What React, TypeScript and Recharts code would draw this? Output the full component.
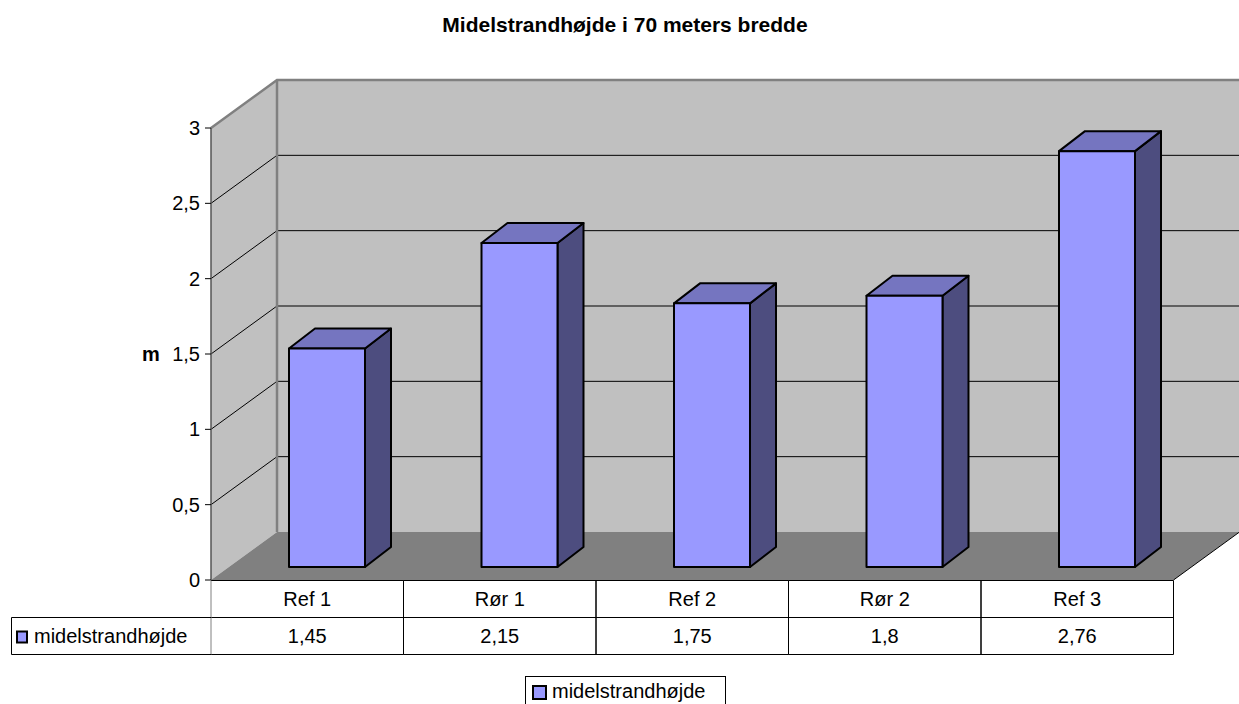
import React from 'react';
import { BarChart, Bar, XAxis, YAxis, CartesianGrid, Legend } from 'recharts';

const categories = ['Ref 1', 'Rør 1', 'Ref 2', 'Rør 2', 'Ref 3'];
const heights = [1.45, 2.15, 1.75, 1.8, 2.76];
const yTicks = [0, 0.5, 1, 1.5, 2, 2.5, 3];
const seriesName = 'midelstrandhøjde';
const title = 'Midelstrandhøjde i 70 meters bredde';
const yLabel = 'm';

const data = categories.map((name, i) => ({ name, value: heights[i] }));

const W = 1239;
const H = 704;
const MARGIN = { top: 128, right: 65.5, left: 141, bottom: 0 };
const Y_AXIS_W = 70;
const PLOT_W = W - MARGIN.left - Y_AXIS_W - MARGIN.right;
const BAND = PLOT_W / categories.length;
const ROW = 37;
const LEGEND_H = 29;

const FONT = '"Liberation Sans", Arial, sans-serif';

// offset of the back wall, and depth of each bar
const DX = 66;
const DY = 48;
const BAR_DX = 26;
const BAR_DY = 20;
// bars stand a little way back on the floor
const SHIFT_X = 20;
const SHIFT_Y = 13;

const WALL = '#c0c0c0';
const FLOOR = '#808080';
const EDGE = '#808080';
const FRONT = '#9999ff';
const TOP = '#7575c0';
const SIDE = '#4d4d7f';

const comma = (v: number | string) => String(v).replace('.', ',');

// side wall, back wall and floor, drawn once from the bottom grid line
const renderWalls = (p: any) => {
  const { x, y, width, height, y1, key } = p;
  if (Math.abs(y1 - (y + height)) > 0.5) return <g key={key} />;
  const b = y + height;
  return (
    <g key={key}>
      <polygon points={`${x},${b} ${x},${y} ${x + DX},${y - DY} ${x + DX},${b - DY}`} fill={WALL} />
      <rect x={x + DX} y={y - DY} width={width} height={height} fill={WALL} />
      <polygon
        points={`${x},${b} ${x + width},${b} ${x + width + DX},${b - DY} ${x + DX},${b - DY}`}
        fill={FLOOR}
      />
      <line x1={x + width} y1={b} x2={x + width + DX} y2={b - DY} stroke="#000" />
    </g>
  );
};

const renderGridLine = (p: any) => {
  const { x, y, width, height, y1, key } = p;
  if (Math.abs(y1 - (y + height)) < 0.5) return <g key={key} />;
  if (Math.abs(y1 - y) < 0.5) {
    return (
      <g key={key} fill="none" stroke={EDGE} strokeWidth={2.5}>
        <polyline points={`${x},${y} ${x + DX},${y - DY} ${x + width + DX},${y - DY}`} />
        <line x1={x + DX} y1={y - DY} x2={x + DX} y2={y + height - DY} />
      </g>
    );
  }
  return (
    <polyline
      key={key}
      points={`${x},${y1} ${x + DX},${y1 - DY} ${x + width + DX},${y1 - DY}`}
      fill="none"
      stroke="#000"
      strokeWidth={1}
    />
  );
};

const Bar3D = (p: any) => {
  const { x, y, width, height } = p;
  const l = x + SHIFT_X;
  const t = y - SHIFT_Y;
  const r = l + width;
  const b = t + height;
  return (
    <g stroke="#000" strokeWidth={2} strokeLinejoin="round">
      <polygon points={`${r},${t} ${r + BAR_DX},${t - BAR_DY} ${r + BAR_DX},${b - BAR_DY} ${r},${b}`} fill={SIDE} />
      <polygon points={`${l},${t} ${l + BAR_DX},${t - BAR_DY} ${r + BAR_DX},${t - BAR_DY} ${r},${t}`} fill={TOP} />
      <rect x={l} y={t} width={width} height={height} fill={FRONT} />
    </g>
  );
};

// data table under the plot: category row and value row
const TableTick = (p: any) => {
  const { x, y, payload } = p;
  const i = payload?.index ?? categories.indexOf(payload?.value);
  const half = BAND / 2;
  const l = x - half;
  const r = x + half;
  const r1 = y + 0.5;
  const r2 = r1 + ROW;
  const r3 = r2 + ROW;
  return (
    <g fontFamily={FONT} fontSize={20}>
      <g stroke="#000" strokeWidth={1}>
        <line x1={l} y1={r1} x2={r} y2={r1} />
        <line x1={l} y1={r2} x2={r} y2={r2} />
        <line x1={l} y1={r3} x2={r} y2={r3} />
        <line x1={r} y1={r1} x2={r} y2={r3} />
        <line x1={l} y1={r1} x2={l} y2={r3} stroke={i === 0 ? EDGE : '#000'} />
      </g>
      <text x={x} y={r1 + 25} textAnchor="middle" fill="#000">{payload.value}</text>
      <text x={x} y={r2 + 25} textAnchor="middle" fill="#000">{comma(heights[i])}</text>
      {i === 0 && (
        <g>
          <g stroke="#000" strokeWidth={1}>
            <line x1={11.5} y1={r2} x2={l} y2={r2} />
            <line x1={11.5} y1={r3} x2={l} y2={r3} />
            <line x1={11.5} y1={r2} x2={11.5} y2={r3} />
          </g>
          <rect x={17} y={r2 + 14} width={10} height={11} fill={FRONT} stroke="#000" strokeWidth={2} />
          <text x={34} y={r2 + 25} fill="#000">{seriesName}</text>
        </g>
      )}
    </g>
  );
};

const LegendBox = () => (
  <svg width={201} height={LEGEND_H} style={{ display: 'block' }}>
    <rect x={0.5} y={0.5} width={200} height={LEGEND_H + 2} fill="#fff" stroke="#000" />
    <rect x={8} y={10} width={13} height={13} fill={FRONT} stroke="#000" strokeWidth={2} />
    <text x={27} y={22} fontFamily={FONT} fontSize={20} fill="#000">{seriesName}</text>
  </svg>
);

const YLabel = (p: any) => {
  const vb = p.viewBox || {};
  return (
    <text
      x={vb.x + 1}
      y={vb.y + vb.height / 2}
      dy="0.36em"
      fontFamily={FONT}
      fontSize={20}
      fontWeight="bold"
      fill="#000"
    >
      {yLabel}
    </text>
  );
};

export default function App() {
  return (
    <div style={{ position: 'absolute', left: 0, top: 0, width: W, height: H, background: '#fff', overflow: 'hidden' }}>
      <svg width={W} height={60} style={{ position: 'absolute', left: 0, top: 0 }}>
        <text x={625} y={32} textAnchor="middle" fontFamily={FONT} fontSize={21} fontWeight="bold" fill="#000">
          {title}
        </text>
      </svg>
      <div style={{ position: 'absolute', left: 0, top: 0 }}>
        <BarChart width={W} height={H} data={data} margin={MARGIN} barSize={76}>
          <CartesianGrid vertical={false} horizontal={renderWalls} />
          <CartesianGrid vertical={false} horizontal={renderGridLine} />
          <XAxis
            dataKey="name"
            height={H - 580 - LEGEND_H}
            axisLine={false}
            tickLine={false}
            tickSize={0}
            tickMargin={0}
            interval={0}
            tick={<TableTick />}
          />
          <YAxis
            width={Y_AXIS_W}
            domain={[0, 3]}
            ticks={yTicks}
            interval={0}
            tickFormatter={comma}
            axisLine={{ stroke: '#555', strokeWidth: 1.5 }}
            tickLine={{ stroke: '#000' }}
            tickSize={6}
            tickMargin={5}
            tick={{ fill: '#000', fontSize: 20, fontFamily: FONT }}
            label={<YLabel />}
          />
          <Legend
            verticalAlign="bottom"
            width={201}
            height={LEGEND_H}
            wrapperStyle={{ left: 525, top: 676, width: 201, height: LEGEND_H }}
            content={<LegendBox />}
          />
          <Bar dataKey="value" name={seriesName} fill={FRONT} shape={<Bar3D />} isAnimationActive={false} />
        </BarChart>
      </div>
    </div>
  );
}
